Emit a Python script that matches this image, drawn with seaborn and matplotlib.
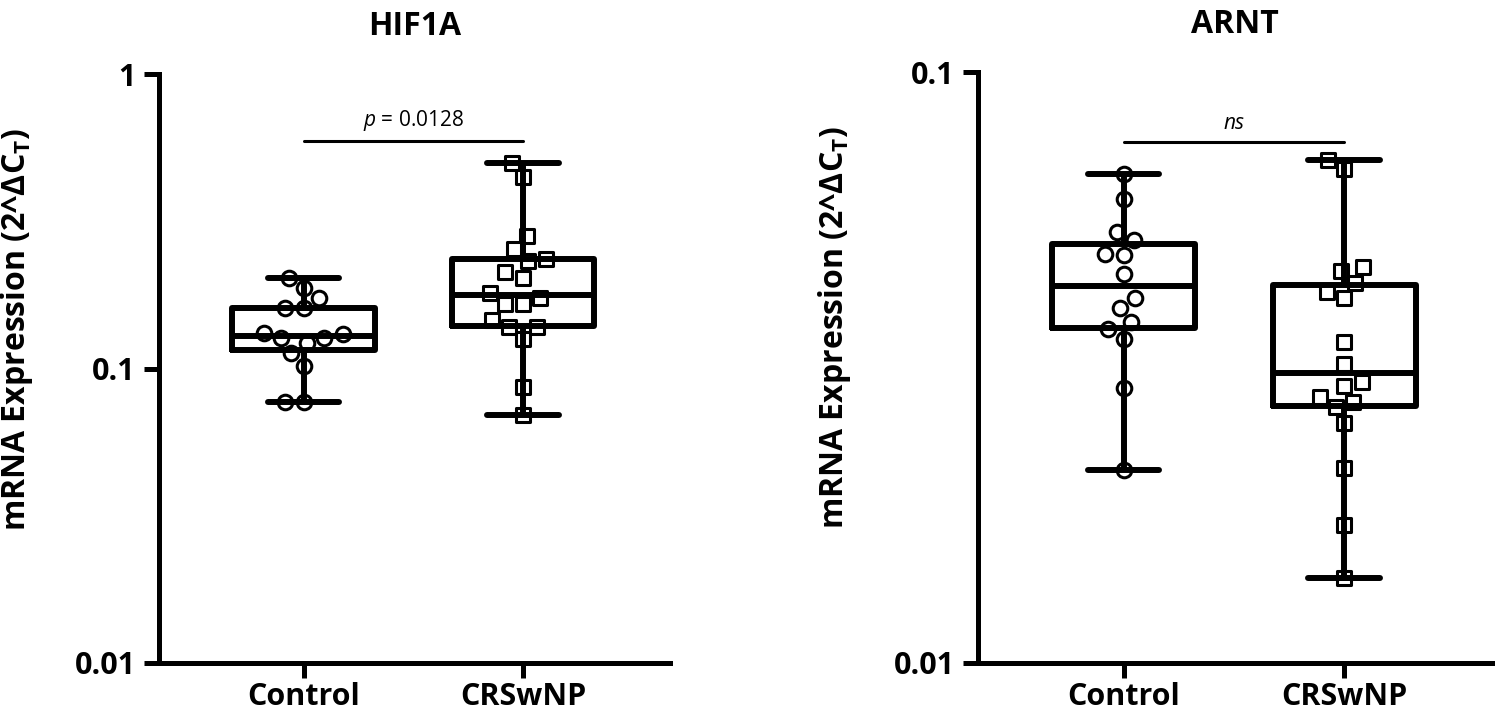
import numpy as np
import pandas as pd
import matplotlib
matplotlib.use("Agg")
import matplotlib.pyplot as plt
import seaborn as sns
from matplotlib.ticker import NullLocator

# ---------------- data ----------------
categories = ["Control", "CRSwNP"]

hif1a_control = [0.203, 0.187, 0.174, 0.161, 0.161, 0.127, 0.127, 0.131,
                 0.132, 0.122, 0.113, 0.102, 0.0767, 0.0767]
hif1a_crswnp = [0.499, 0.448, 0.282, 0.255, 0.236, 0.232, 0.203, 0.212, 0.174,
                0.180, 0.166, 0.166, 0.146, 0.138, 0.138, 0.126, 0.0862, 0.0693]

arnt_control = [0.0672, 0.0609, 0.0536, 0.0519, 0.0490, 0.0492, 0.0455,
                0.0414, 0.0398, 0.0377, 0.0367, 0.0354, 0.0292, 0.0212]
arnt_crswnp = [0.0709, 0.0685, 0.0467, 0.0460, 0.0439, 0.0425, 0.0415, 0.0349,
               0.0320, 0.0299, 0.0294, 0.0282, 0.0271, 0.0276, 0.0255, 0.0214,
               0.0171, 0.0139]

titles = ["HIF1A", "ARNT"]
hif1a_ticks = [0.01, 0.1, 1]
hif1a_ticklabels = ["0.01", "0.1", "1"]
arnt_ticks = [0.01, 0.1]
arnt_ticklabels = ["0.01", "0.1"]
annotations = [r"$\mathit{p}$ = 0.0128", "ns"]
annotation_levels = [0.59, 0.0761]
ylabel = r"mRNA Expression (2^ΔC$_\mathbf{T}$)"

# ---------------- style ----------------
sns.set_theme(style="ticks")
FONT = "Open Sans"
plt.rcParams["font.family"] = [FONT, "DejaVu Sans"]
plt.rcParams["font.weight"] = "bold"
plt.rcParams["mathtext.fontset"] = "custom"
plt.rcParams["mathtext.rm"] = FONT
plt.rcParams["mathtext.it"] = FONT + ":style=italic:weight=normal"
plt.rcParams["mathtext.bf"] = FONT + ":bold"

W, H = 1496, 712
fig = plt.figure(figsize=(W / 100, H / 100), dpi=100)
ax1 = fig.add_axes([159 / W, 49 / H, 511 / W, 589 / H])
ax2 = fig.add_axes([978 / W, 49 / H, 514 / W, 591 / H])


def panel(ax, ctrl, crs, ylim, ticks, ticklabels, title, ann, ann_y):
    df = pd.DataFrame({
        "group": [categories[0]] * len(ctrl) + [categories[1]] * len(crs),
        "value": list(ctrl) + list(crs),
    })
    ax.set_yscale("log")
    sns.swarmplot(data=df[df.group == categories[0]], x="group", y="value",
                  order=categories, marker="o", size=10.5, color="white",
                  edgecolor="black", linewidth=2.2, ax=ax, zorder=2)
    sns.swarmplot(data=df[df.group == categories[1]], x="group", y="value",
                  order=categories, marker="s", size=10.5, color="white",
                  edgecolor="black", linewidth=2.2, ax=ax, zorder=2)
    sns.boxplot(data=df, x="group", y="value", order=categories,
                whis=(0, 100), width=0.65, fill=False, color="black",
                linewidth=4.3, showfliers=False, ax=ax, zorder=3)
    ax.set_xlim(-0.66, 1.67)
    ax.set_ylim(*ylim)
    ax.set_yticks(ticks)
    ax.set_yticklabels(ticklabels)
    ax.yaxis.set_minor_locator(NullLocator())
    ax.tick_params(axis="both", which="major", length=11, width=3.6,
                   color="black", labelcolor="black", labelsize=22)
    ax.tick_params(axis="y", pad=6)
    ax.tick_params(axis="x", pad=3)
    for lab in ax.get_xticklabels() + ax.get_yticklabels():
        lab.set_fontweight("bold")
    ax.set_xlabel("")
    ax.set_ylabel(ylabel, fontsize=23, fontweight="bold", color="black")
    ax.yaxis.set_label_coords(-0.243, 0.567)
    sns.despine(ax=ax)
    for s in ["left", "bottom"]:
        ax.spines[s].set_linewidth(3.6)
        ax.spines[s].set_color("black")
    ax.set_title(title, fontsize=23, fontweight="bold", pad=28, color="black")
    ax.plot([0, 1], [ann_y, ann_y], color="black", lw=2.2, clip_on=False)
    ax.annotate(ann, xy=(0.5, ann_y), xytext=(0, 6), textcoords="offset points",
                ha="center", va="bottom", fontsize=15, fontweight="normal",
                style="italic" if ann == "ns" else "normal", color="black")


panel(ax1, hif1a_control, hif1a_crswnp, (0.01, 1), hif1a_ticks,
      hif1a_ticklabels, titles[0], annotations[0], annotation_levels[0])
panel(ax2, arnt_control, arnt_crswnp, (0.01, 0.1), arnt_ticks,
      arnt_ticklabels, titles[1], annotations[1], annotation_levels[1])

fig.savefig("out.png", dpi=100)
